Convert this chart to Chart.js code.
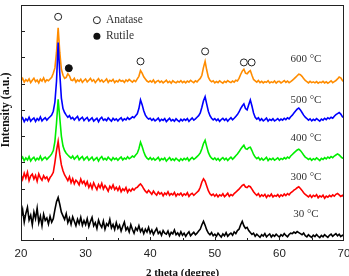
<!DOCTYPE html>
<html>
<head>
<meta charset="utf-8">
<script src="https://cdn.jsdelivr.net/npm/chart.js@4.4.0/dist/chart.umd.min.js"></script>
<style>
  html, body { margin: 0; padding: 0; background: #fff; }
</style>
</head>
<body>
<canvas id="graficoDRX" width="349" height="276"></canvas>
<script>
// Eixo 2θ: varredura de 20° a 70° com passo de 0,25°
const inicio = 20;
const passo = 0.25;
const doisTheta = Array.from({ length: 201 }, (_, i) => inicio + i * passo);

const amostras = ['30 °C', '300 °C', '400 °C', '500 °C', '600 °C'];
const ticksX = [20, 30, 40, 50, 60, 70];

// Intensidades (u.a.), já com o deslocamento vertical de cada curva
const intens600 = [
  612, 620, 606, 615, 609, 618, 604, 613, 621, 608, 614, 603, 617, 610, 622, 607, 615, 611, 618, 624,
  640, 660, 720, 813, 720, 655, 632, 620, 624, 638, 630, 614, 612, 620, 606, 614, 609, 617, 605, 612,
  618, 607, 613, 620, 609, 615, 604, 612, 619, 608, 614, 606, 611, 618, 605, 613, 609, 616, 604, 611,
  607, 615, 609, 612, 605, 614, 609, 616, 611, 606, 613, 608, 618, 628, 650, 640, 626, 618, 610, 606,
  611, 606, 614, 603, 609, 612, 605, 610, 603, 608, 613, 604, 609, 602, 611, 606, 603, 609, 605, 611,
  604, 609, 603, 610, 606, 613, 608, 604, 611, 607, 614, 620, 632, 662, 685, 652, 625, 613, 607, 611,
  603, 608, 604, 611, 606, 602, 609, 605, 612, 607, 604, 610, 606, 613, 610, 620, 635, 648, 655, 640,
  638, 645, 650, 632, 616, 611, 606, 612, 604, 609, 603, 608, 605, 611, 603, 607, 604, 610, 602, 608,
  609, 603, 607, 612, 605, 610, 604, 608, 613, 618, 624, 630, 636, 634, 628, 620, 612, 608, 603, 609,
  604, 607, 603, 608, 602, 606, 604, 609, 603, 607, 602, 606, 611, 604, 608, 612, 618, 625, 622, 612,
  607
];
const intens500 = [
  462, 470, 455, 466, 459, 472, 457, 464, 469, 456, 467, 460, 473, 458, 465, 470, 461, 468, 474, 480,
  495, 530, 610, 757, 640, 545, 505, 490, 480, 472, 478, 466, 471, 462, 469, 475, 460, 467, 472, 459,
  466, 471, 458, 464, 470, 457, 463, 468, 455, 466, 472, 460, 465, 459, 470, 463, 457, 468, 461, 466,
  458, 465, 470, 459, 466, 462, 471, 464, 468, 474, 470, 478, 485, 505, 538, 520, 497, 480, 471, 465,
  468, 460, 466, 458, 463, 469, 457, 464, 460, 467, 455, 462, 468, 458, 463, 457, 466, 460, 455, 464,
  458, 465, 460, 467, 456, 463, 469, 461, 466, 472, 478, 488, 510, 535, 550, 522, 495, 478, 468, 462,
  467, 459, 465, 456, 463, 468, 460, 466, 457, 464, 470, 462, 468, 475, 482, 492, 505, 515, 523, 505,
  500, 520, 538, 515, 488, 472, 465, 470, 460, 466, 458, 463, 469, 457, 464, 460, 466, 458, 462, 467,
  459, 465, 461, 468, 463, 470, 466, 474, 480, 488, 496, 503, 507, 500, 490, 480, 472, 467, 461, 466,
  458, 464, 460, 467, 462, 457, 465, 461, 468, 463, 470, 466, 472, 468, 476, 482, 486, 490, 484, 474,
  470
];
const intens400 = [
  312, 320, 306, 317, 309, 322, 305, 314, 319, 307, 316, 310, 323, 308, 315, 320, 311, 318, 324, 332,
  345, 380, 450, 540, 470, 400, 362, 345, 335, 328, 322, 316, 324, 312, 319, 325, 310, 317, 322, 309,
  316, 321, 308, 314, 320, 307, 313, 318, 305, 316, 322, 310, 315, 309, 320, 313, 307, 318, 311, 316,
  308, 315, 320, 309, 316, 312, 321, 314, 318, 324, 320, 328, 335, 352, 377, 360, 340, 325, 316, 311,
  318, 310, 316, 308, 313, 319, 307, 314, 310, 317, 305, 312, 318, 308, 313, 307, 316, 310, 305, 314,
  308, 315, 310, 317, 306, 313, 319, 311, 316, 322, 328, 336, 352, 372, 384, 360, 338, 324, 316, 311,
  317, 309, 315, 306, 313, 318, 310, 316, 307, 314, 320, 312, 318, 325, 332, 340, 350, 358, 365, 352,
  350, 356, 358, 345, 330, 320, 314, 319, 309, 316, 308, 313, 319, 307, 314, 310, 316, 308, 312, 317,
  309, 315, 311, 318, 313, 320, 316, 324, 330, 336, 342, 347, 350, 345, 337, 328, 320, 316, 311, 315,
  308, 314, 310, 317, 312, 307, 315, 311, 318, 313, 320, 316, 322, 318, 324, 328, 332, 328, 322, 316,
  318
];
const intens300 = [
  252, 235, 258, 240, 262, 230, 248, 255, 236, 250, 228, 256, 241, 232, 249, 238, 244, 229, 242, 250,
  262, 300, 345, 380, 330, 290, 268, 252, 242, 230, 245, 222, 238, 218, 232, 225, 214, 236, 220, 228,
  212, 226, 204, 218, 200, 222, 208, 196, 215, 203, 220, 198, 211, 202, 190, 209, 200, 214, 196, 205,
  193, 206, 188, 199, 192, 204, 186, 197, 190, 200, 194, 202, 205, 212, 218, 210, 199, 190, 184, 193,
  186, 178, 190, 181, 175, 187, 179, 184, 172, 183, 177, 188, 174, 181, 176, 185, 171, 180, 176, 183,
  172, 180, 175, 184, 170, 178, 182, 174, 180, 186, 192, 205, 225, 237, 228, 210, 192, 180, 174, 179,
  171, 178, 168, 176, 172, 180, 169, 175, 182, 170, 177, 173, 181, 186, 192, 198, 205, 212, 215, 206,
  204, 210, 207, 198, 188, 180, 174, 181, 169, 176, 171, 178, 166, 175, 170, 179, 168, 174, 171, 177,
  168, 176, 171, 179, 173, 181, 176, 184, 188, 194, 198, 203, 207, 200, 193, 184, 178, 173, 168, 175,
  166, 174, 170, 177, 165, 172, 168, 175, 163, 171, 167, 174, 169, 176, 171, 178, 181, 176, 170, 174,
  168
];
const intens30 = [
  90, 120, 72, 105, 128, 80, 98, 62, 110, 85, 125, 70, 95, 58, 102, 78, 88, 65, 94, 72,
  85, 120, 150, 166, 140, 110, 96, 82, 104, 70, 88, 64, 92, 75, 58, 83, 66, 90, 60, 78,
  62, 85, 55, 74, 90, 58, 70, 48, 80, 62, 52, 76, 45, 66, 58, 82, 50, 63, 44, 70,
  48, 60, 38, 56, 72, 42, 52, 35, 62, 44, 30, 50, 40, 58, 36, 47, 28, 45, 34, 52,
  30, 42, 25, 38, 48, 28, 36, 22, 40, 30, 26, 38, 20, 33, 27, 42, 24, 31, 20, 35,
  22, 30, 18, 28, 35, 20, 27, 33, 24, 30, 38, 45, 62, 75, 60, 42, 30, 24, 32, 20,
  26, 18, 30, 22, 15, 27, 20, 32, 18, 25, 30, 22, 35, 28, 40, 45, 62, 75, 58, 48,
  52, 40, 32, 25, 30, 18, 26, 20, 14, 24, 19, 28, 16, 22, 27, 15, 23, 18, 26, 20,
  15, 24, 19, 28, 21, 16, 25, 30, 28, 34, 30, 36, 32, 28, 24, 30, 20, 16, 24, 18,
  14, 22, 17, 25, 18, 13, 21, 16, 24, 19, 14, 22, 26, 18, 23, 28, 20, 26, 17, 22,
  18
];

// Marcadores de fase (posição 2θ e altura do símbolo)
const anataseX = [25.75, 38.5, 48.5, 54.5, 55.7];
const anataseY = [855, 685, 723, 681, 681];
const rutiloX = [27.4];
const rutiloY = [659];

function montarPontos(valores) {
    return valores.map((v, i) => ({ x: doisTheta[i], y: v }));
}

function montarMarcadores(xs, ys) {
    return xs.map((v, i) => ({ x: v, y: ys[i] }));
}

function curva(rotulo, valores, cor, ordem) {
    return {
        label: rotulo,
        data: montarPontos(valores),
        borderColor: cor,
        borderWidth: 1.6,
        pointRadius: 0,
        tension: 0,
        fill: false,
        order: ordem
    };
}

// Desenha moldura, marcas internas, rótulos de temperatura, legenda e títulos dos eixos
const decoracao = {
    id: 'decoracao',
    afterDraw(chart) {
        const ctx = chart.ctx;
        const area = chart.chartArea;
        const escX = chart.scales.x;
        const escY = chart.scales.y;
        ctx.save();

        ctx.strokeStyle = '#222';
        ctx.lineWidth = 1;
        ctx.strokeRect(area.left + 0.5, area.top + 0.5, area.right - area.left - 1, area.bottom - area.top - 1);

        ctx.beginPath();
        for (let v = 25; v < 70; v += 5) {
            const px = Math.round(escX.getPixelForValue(v)) + 0.5;
            ctx.moveTo(px, area.bottom);
            ctx.lineTo(px, area.bottom - (v % 10 === 0 ? 4 : 3));
        }
        for (let v = 100; v < 900; v += 100) {
            const py = Math.round(escY.getPixelForValue(v)) + 0.5;
            ctx.moveTo(area.left, py);
            ctx.lineTo(area.left + 4, py);
        }
        ctx.stroke();

        // rótulos das temperaturas
        const alturas = [102, 245, 392, 538, 693];
        ctx.fillStyle = '#333';
        ctx.font = '11px "Liberation Serif"';
        ctx.textAlign = 'center';
        ctx.textBaseline = 'middle';
        amostras.forEach((t, i) => {
            ctx.fillText(t, escX.getPixelForValue(64.1), escY.getPixelForValue(alturas[i]));
        });

        // legenda
        const lx = escX.getPixelForValue(31.75);
        const ly1 = escY.getPixelForValue(842);
        const ly2 = escY.getPixelForValue(781);
        ctx.lineWidth = 1;
        ctx.strokeStyle = '#222';
        ctx.fillStyle = '#fff';
        ctx.beginPath();
        ctx.arc(lx, ly1, 3.5, 0, Math.PI * 2);
        ctx.fill();
        ctx.stroke();
        ctx.fillStyle = '#111';
        ctx.beginPath();
        ctx.arc(lx, ly2, 3.5, 0, Math.PI * 2);
        ctx.fill();
        ctx.fillStyle = '#333';
        ctx.font = '11.5px "Liberation Serif"';
        ctx.textAlign = 'left';
        ctx.fillText('Anatase', lx + 9, ly1);
        ctx.fillText('Rutile', lx + 9, ly2);

        // títulos dos eixos
        ctx.fillStyle = '#111';
        ctx.font = 'bold 11px "Liberation Serif"';
        ctx.textAlign = 'center';
        ctx.fillText('2 theta (degree)', (area.left + area.right) / 2, 273);
        ctx.font = 'bold 12px "Liberation Serif"';
        ctx.translate(6, 110);
        ctx.rotate(-Math.PI / 2);
        ctx.fillText('Intensity (a.u.)', 0, 0);

        ctx.restore();
    }
};

const ctx = document.getElementById('graficoDRX').getContext('2d');
const chart = new Chart(ctx, {
    type: 'line',
    data: {
        datasets: [
            {
                type: 'scatter',
                label: 'Anatase',
                data: montarMarcadores(anataseX, anataseY),
                pointRadius: 3.5,
                pointStyle: 'circle',
                borderColor: '#222',
                backgroundColor: '#fff',
                borderWidth: 1,
                showLine: false,
                order: 0
            },
            {
                type: 'scatter',
                label: 'Rutile',
                data: montarMarcadores(rutiloX, rutiloY),
                pointRadius: 3.5,
                pointStyle: 'circle',
                borderColor: '#111',
                backgroundColor: '#111',
                borderWidth: 1,
                showLine: false,
                order: 0
            },
            curva(amostras[0], intens30, '#000000', 1),
            curva(amostras[1], intens300, '#ff0000', 3),
            curva(amostras[2], intens400, '#00ee00', 4),
            curva(amostras[3], intens500, '#0000ff', 2),
            curva(amostras[4], intens600, '#ff8c00', 5)
        ]
    },
    options: {
        responsive: false,
        animation: false,
        layout: { padding: { top: 2, right: 5, left: 0, bottom: 0 } },
        plugins: {
            legend: { display: false },
            tooltip: { enabled: false }
        },
        scales: {
            x: {
                type: 'linear',
                min: 20,
                max: 70,
                afterBuildTicks: escala => { escala.ticks = ticksX.map(v => ({ value: v })); },
                ticks: {
                    color: '#222',
                    padding: 6,
                    font: { family: 'Liberation Sans', size: 11.5 }
                },
                grid: { display: false, drawTicks: false },
                border: { display: false },
                afterFit: escala => {
                    escala.height = 35;
                    escala.paddingLeft = 0;
                    escala.paddingRight = 0;
                }
            },
            y: {
                min: 0,
                max: 900,
                ticks: { display: false },
                grid: { display: false, drawTicks: false },
                border: { display: false },
                afterFit: escala => { escala.width = 21; }
            }
        }
    },
    plugins: [decoracao]
});
</script>
</body>
</html>
